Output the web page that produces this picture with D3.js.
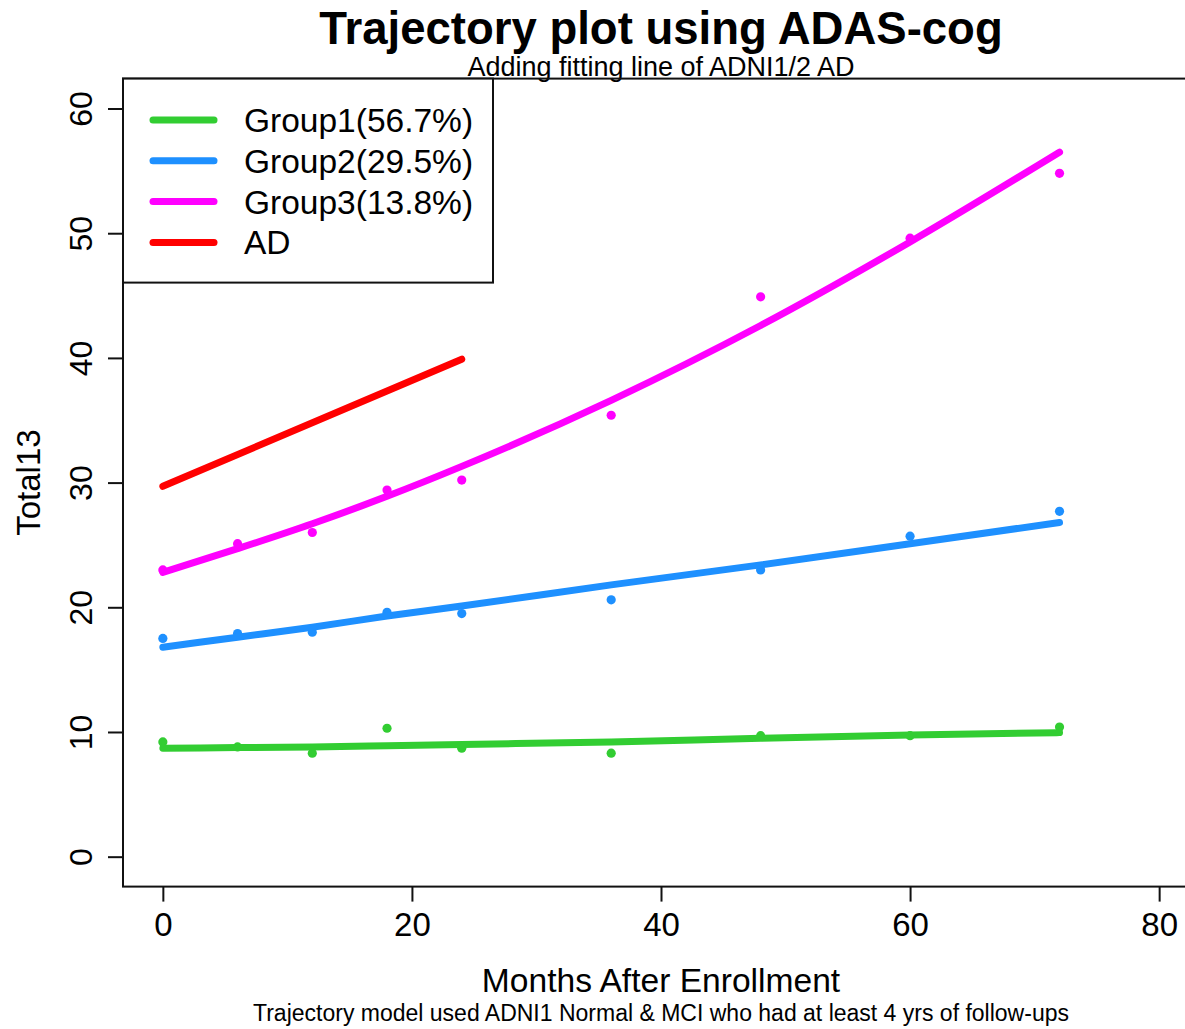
<!DOCTYPE html>
<html>
<head>
<meta charset="utf-8">
<script src="https://cdn.jsdelivr.net/npm/d3@7"></script>
<style>
  html, body { margin: 0; padding: 0; background: #fff; }
  svg { display: block; font-family: "Liberation Sans", Arial, sans-serif; }
</style>
</head>
<body>
<svg id="chart" width="1185" height="1029"></svg>
<script>
// Visit months (x) shared by the trajectory groups
const months = [0, 6, 12, 18, 24, 36, 48, 60, 72];

// Observed mean ADAS-cog Total13 per visit
const group1Obs = [9.2, 8.8, 8.3, 10.3, 8.7, 8.3, 9.7, 9.7, 10.4];
const group2Obs = [17.5, 17.9, 18.0, 19.6, 19.5, 20.6, 23.0, 25.7, 27.7];
const group3Obs = [23.0, 25.1, 26.0, 29.4, 30.2, 35.4, 44.9, 49.6, 54.8];

// Fitted trajectory values per visit
const group1Fit = [8.70, 8.75, 8.80, 8.90, 9.00, 9.20, 9.50, 9.75, 9.95];
const group2Fit = [16.8, 17.6, 18.4, 19.3, 20.1, 21.8, 23.4, 25.1, 26.8];
const group3Fit = [22.8, 24.7, 26.7, 28.9, 31.3, 36.6, 42.6, 49.3, 56.5];

// ADNI1/2 AD fitted line
const adMonths = [0, 24];
const adFit = [29.7, 39.9];

// Legend entries and colours
const legendLabels = ["Group1(56.7%)", "Group2(29.5%)", "Group3(13.8%)", "AD"];
const legendColors = ["#32CD32", "#1E90FF", "#FF00FF", "#FF0000"];

// Axis ticks
const xTicks = [0, 20, 40, 60, 80];
const yTicks = [0, 10, 20, 30, 40, 50, 60];

const svg = d3.select("#chart");

const x = d3.scaleLinear().domain([-3.2, 83.2]).range([123, 1199]);
const y = d3.scaleLinear().domain([-2.4, 62.4]).range([886.6, 78.6]);

const plotLeft = x.range()[0], plotRight = x.range()[1];
const plotTop = y.range()[1], plotBottom = y.range()[0];
const cx = (plotLeft + plotRight) / 2;

// Titles
svg.append("text").attr("x", cx).attr("y", 44)
  .attr("text-anchor", "middle").attr("font-size", 45.5).attr("font-weight", "bold")
  .text("Trajectory plot using ADAS-cog");
svg.append("text").attr("x", cx).attr("y", 76)
  .attr("text-anchor", "middle").attr("font-size", 27)
  .text("Adding fitting line of ADNI1/2 AD");

// Axes
const xAxis = d3.axisBottom(x).tickValues(xTicks).tickSize(15).tickPadding(11).tickFormat(d3.format("d"));
const gx = svg.append("g").attr("transform", `translate(0,${plotBottom})`).call(xAxis);
gx.select(".domain").remove();
gx.selectAll(".tick line").attr("stroke", "#111").attr("stroke-width", 2);
gx.selectAll(".tick text").attr("font-size", 33).attr("fill", "#000")
  .attr("font-family", "Liberation Sans, Arial, sans-serif");

const yAxis = d3.axisLeft(y).tickValues(yTicks).tickSize(15).tickFormat(d3.format("d"));
const gy = svg.append("g").attr("transform", `translate(${plotLeft},0)`).call(yAxis);
gy.select(".domain").remove();
gy.selectAll(".tick line").attr("stroke", "#111").attr("stroke-width", 2);
gy.selectAll(".tick text")
  .attr("font-size", 32).attr("fill", "#000")
  .attr("font-family", "Liberation Sans, Arial, sans-serif")
  .attr("x", null).attr("dy", null)
  .attr("text-anchor", "middle")
  .attr("transform", "translate(-31,0) rotate(-90)");

// Axis titles and footnote
svg.append("text").attr("x", cx).attr("y", 992)
  .attr("text-anchor", "middle").attr("font-size", 33.6)
  .text("Months After Enrollment");
svg.append("text").attr("x", cx).attr("y", 1021)
  .attr("text-anchor", "middle").attr("font-size", 23)
  .text("Trajectory model used ADNI1 Normal & MCI who had at least 4 yrs of follow-ups");
svg.append("text")
  .attr("transform", `translate(40,${(plotTop + plotBottom) / 2}) rotate(-90)`)
  .attr("text-anchor", "middle").attr("font-size", 33)
  .text("Total13");

// Data layer
const plotG = svg.append("g");

const groups = [
  { obs: group1Obs, fit: group1Fit, color: legendColors[0] },
  { obs: group2Obs, fit: group2Fit, color: legendColors[1] },
  { obs: group3Obs, fit: group3Fit, color: legendColors[2] }
];

const line = d3.line().x(d => x(d[0])).y(d => y(d[1])).curve(d3.curveMonotoneX);

// observed means first, fitted lines on top
groups.forEach(g => {
  plotG.selectAll(null)
    .data(months.map((m, i) => [m, g.obs[i]]))
    .enter().append("circle")
    .attr("cx", d => x(d[0])).attr("cy", d => y(d[1]))
    .attr("r", 4.6).attr("fill", g.color);
});
groups.forEach(g => {
  plotG.append("path")
    .datum(months.map((m, i) => [m, g.fit[i]]))
    .attr("d", line)
    .attr("fill", "none").attr("stroke", g.color)
    .attr("stroke-width", 7).attr("stroke-linecap", "round").attr("stroke-linejoin", "round");
});
plotG.append("path")
  .datum(adMonths.map((m, i) => [m, adFit[i]]))
  .attr("d", line)
  .attr("fill", "none").attr("stroke", legendColors[3])
  .attr("stroke-width", 7).attr("stroke-linecap", "round");

// Plot frame
svg.append("rect")
  .attr("x", plotLeft).attr("y", plotTop)
  .attr("width", plotRight - plotLeft).attr("height", plotBottom - plotTop)
  .attr("fill", "none").attr("stroke", "#111").attr("stroke-width", 2);

// Legend
const legend = svg.append("g");
legend.append("rect")
  .attr("x", plotLeft).attr("y", plotTop)
  .attr("width", 370).attr("height", 204)
  .attr("fill", "#fff").attr("stroke", "#111").attr("stroke-width", 2);
legendLabels.forEach((lab, i) => {
  const ly = 120 + i * 40.8;
  legend.append("line")
    .attr("x1", 153).attr("x2", 214).attr("y1", ly).attr("y2", ly)
    .attr("stroke", legendColors[i]).attr("stroke-width", 7).attr("stroke-linecap", "round");
  legend.append("text")
    .attr("x", 244).attr("y", ly + 12)
    .attr("font-size", 33.5).text(lab);
});
</script>
</body>
</html>
